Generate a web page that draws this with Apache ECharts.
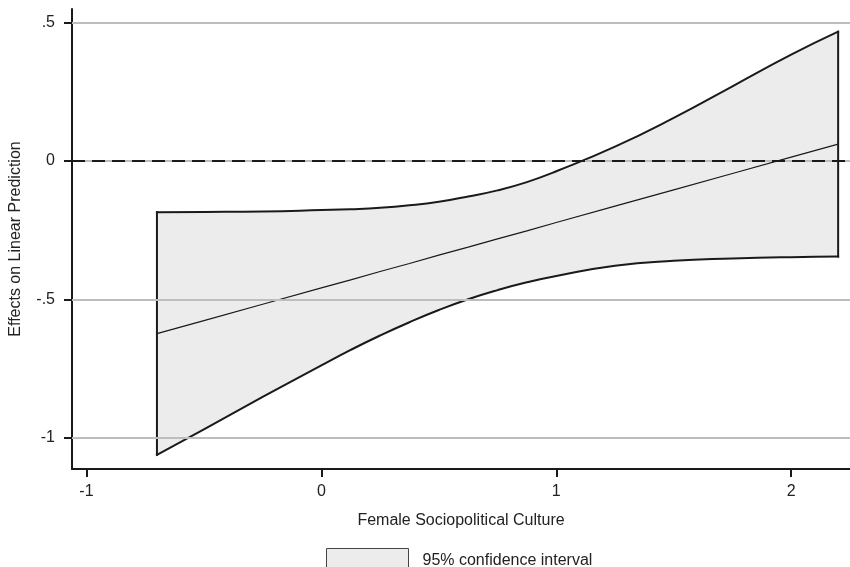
<!DOCTYPE html>
<html>
<head>
<meta charset="utf-8">
<script src="https://cdn.jsdelivr.net/npm/echarts@6/dist/echarts.min.js"></script>
<style>
html,body{margin:0;padding:0;background:#fff;}
#chart{width:850px;height:567px;}
</style>
</head>
<body>
<div id="chart"></div>
<script>
// x values (Female Sociopolitical Culture)
var xs = [-0.7, -0.5, -0.25, 0, 0.125, 0.25, 0.375, 0.5, 0.625, 0.75, 0.875, 1.0, 1.25, 1.5, 1.75, 2.0, 2.2];
// point estimate
var center = [-0.623, -0.576, -0.517, -0.458, -0.429, -0.399, -0.370, -0.340, -0.311, -0.281, -0.252, -0.222, -0.163, -0.104, -0.045, 0.014, 0.061];
// 95% CI bounds
var upper = [-0.185, -0.184, -0.182, -0.177, -0.174, -0.169, -0.160, -0.147, -0.128, -0.106, -0.076, -0.037, 0.052, 0.156, 0.270, 0.384, 0.467];
var lower = [-1.061, -0.969, -0.852, -0.738, -0.682, -0.630, -0.582, -0.538, -0.499, -0.466, -0.438, -0.415, -0.378, -0.360, -0.352, -0.347, -0.345];

var xTicks = [-1, 0, 1, 2];
var xTickLabels = ['-1', '0', '1', '2'];
var yTicks = [-1, -0.5, 0, 0.5];
var yTickLabels = ['-1', '-.5', '0', '.5'];
var gridValues = [-1, -0.5, 0, 0.5];
var refValue = 0;

var xTitle = 'Female Sociopolitical Culture';
var yTitle = 'Effects on Linear Prediction';
var legendLabel = '95% confidence interval';

var FONT = "'Liberation Sans', Arial, Helvetica, sans-serif";
var TXT = '#222';
var AX = '#1a1a1a';
var FS = 16;

var chart = echarts.init(document.getElementById('chart'), null, {renderer: 'canvas'});

function lbl(ticks, labels) {
  return function (v) {
    for (var i = 0; i < ticks.length; i++) {
      if (Math.abs(ticks[i] - v) < 1e-9) return labels[i];
    }
    return '';
  };
}

var option = {
  animation: false,
  backgroundColor: '#fff',
  textStyle: {fontFamily: FONT},
  grid: {left: 70, right: 0, top: 9, bottom: 98, containLabel: false},
  legend: {
    show: true,
    selectedMode: false,
    left: 326,
    top: 548,
    padding: 0,
    itemWidth: 82,
    itemHeight: 25,
    textStyle: {fontSize: FS, color: TXT, fontFamily: FONT, padding: [0, 0, 0, 9]},
    data: [{
      name: legendLabel,
      icon: 'rect',
      itemStyle: {color: '#ececec', borderColor: '#444', borderWidth: 1}
    }]
  },
  xAxis: {
    type: 'value',
    min: -1.0616,
    max: 2.2505,
    name: xTitle,
    nameLocation: 'middle',
    nameGap: 44,
    nameTextStyle: {fontSize: FS, color: TXT, fontFamily: FONT},
    axisLine: {show: true, onZero: false, lineStyle: {color: AX, width: 2}},
    axisTick: {show: true, length: 8, lineStyle: {color: AX, width: 2}, customValues: xTicks},
    axisLabel: {show: true, fontSize: FS, color: TXT, margin: 15, customValues: xTicks, formatter: lbl(xTicks, xTickLabels)},
    splitLine: {show: false}
  },
  yAxis: {
    type: 'value',
    min: -1.112,
    max: 0.549,
    name: yTitle,
    nameLocation: 'middle',
    nameGap: 48,
    nameRotate: 90,
    nameTextStyle: {fontSize: FS, color: TXT, fontFamily: FONT},
    axisLine: {show: true, onZero: false, lineStyle: {color: AX, width: 2}},
    axisTick: {show: true, length: 8, lineStyle: {color: AX, width: 2}, customValues: yTicks},
    axisLabel: {show: true, fontSize: FS, color: TXT, margin: 17, customValues: yTicks, formatter: lbl(yTicks, yTickLabels)},
    splitLine: {show: false}
  },
  series: [
    {
      name: 'grid',
      type: 'line',
      z: 1,
      silent: true,
      showSymbol: false,
      lineStyle: {opacity: 0},
      data: [[xs[0], center[0]]],
      markLine: {
        silent: true,
        symbol: ['none', 'none'],
        label: {show: false},
        lineStyle: {color: '#bdbdbd', width: 2, type: 'solid'},
        data: gridValues.map(function (v) { return {yAxis: v}; })
      }
    },
    {
      name: 'ref',
      type: 'line',
      z: 2,
      silent: true,
      showSymbol: false,
      lineStyle: {opacity: 0},
      data: [[xs[0], center[0]]],
      markLine: {
        silent: true,
        symbol: ['none', 'none'],
        label: {show: false},
        data: [{yAxis: refValue, lineStyle: {color: '#1a1a1a', width: 2, type: [13, 7], dashOffset: 0}}]
      }
    },
    {
      name: legendLabel,
      type: 'custom',
      z: 3,
      silent: true,
      itemStyle: {color: '#ececec', borderColor: '#444'},
      data: xs.map(function (x, i) { return [x, upper[i], lower[i]]; }),
      renderItem: function (params, api) {
        if (params.dataIndex !== 0) return null;
        var up = xs.map(function (x, i) { return api.coord([x, upper[i]]); });
        var lo = xs.map(function (x, i) { return api.coord([x, lower[i]]); });
        var n = xs.length - 1;
        var strokeStyle = {stroke: '#1a1a1a', lineWidth: 2, fill: null, lineCap: 'square', lineJoin: 'miter'};
        return {
          type: 'group',
          children: [
            {type: 'polygon', shape: {points: up.concat(lo.slice().reverse()), smooth: 0}, style: {fill: 'rgba(220,220,220,0.54)', stroke: null}},
            {type: 'polyline', shape: {points: up, smooth: 0.5}, style: strokeStyle},
            {type: 'polyline', shape: {points: lo, smooth: 0.5}, style: strokeStyle},
            {type: 'polyline', shape: {points: [up[0], lo[0]]}, style: strokeStyle},
            {type: 'polyline', shape: {points: [up[n], lo[n]]}, style: strokeStyle}
          ]
        };
      }
    },
    {
      name: 'estimate',
      type: 'line',
      z: 4,
      silent: true,
      showSymbol: false,
      symbol: 'none',
      lineStyle: {color: '#1a1a1a', width: 1.2},
      data: xs.map(function (x, i) { return [x, center[i]]; })
    }
  ]
};
chart.setOption(option);
</script>
</body>
</html>
